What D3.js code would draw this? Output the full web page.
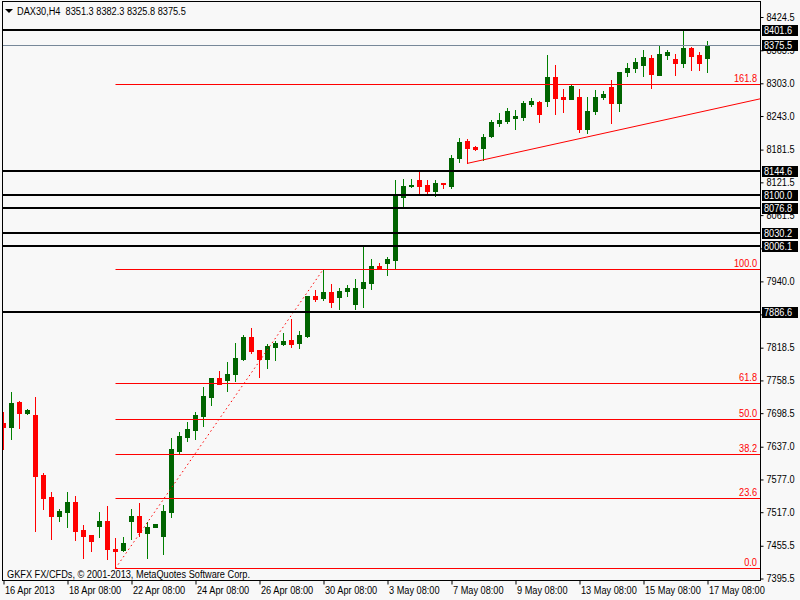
<!DOCTYPE html>
<html><head><meta charset="utf-8">
<script src="https://cdn.jsdelivr.net/npm/d3@7"></script>
<style>
html,body{margin:0;padding:0;background:#f8f8f8;}
svg{display:block;font-family:"Liberation Sans",Arial,sans-serif;font-size:10px;}
</style></head>
<body>
<svg id="c" width="800" height="600"></svg>
<script>
// ---- DATA ----
const symbolTitle = "DAX30,H4  8351.3 8382.3 8325.8 8375.5";
const watermark = "GKFX FX/CFDs, \u00A9 2001-2013, MetaQuotes Software Corp.";
const open = [
7682.8,7675.5,7721.3,7700.1,7696.9,7587.0,7547.2,7512.4,7519.7,7537.5,
7486.2,7477.0,7494.1,7502.7,7450.8,7449.6,7503.3,7511.9,7480.2,7491.2,
7475.8,7519.7,7631.5,7657.2,7669.5,7695.7,7730.5,7765.3,7761.1,7772.1,
7799.0,7839.3,7816.1,7799.6,7822.1,7827.0,7834.4,7828.3,7841.7,7915.6,
7911.3,7921.8,7913.7,7924.7,7900.4,7929.1,7939.4,7970.5,7974.9,7981.0,
8097.0,8117.1,8127.6,8118.4,8108.0,8121.5,8117.1,8168.5,8199.6,8188.6,
8186.8,8208.2,8232.6,8236.3,8241.7,8243.6,8267.4,8271.1,8272.4,8316.9,
8280.2,8276.0,8280.2,8221.0,8254.6,8279.1,8298.6,8268.1,8326.0,8332.3,
8338.3,8350.6,8320.5,8356.6,8348.8,8342.5,8370.0,8356.6,8351.3];
const high = [
7701.9,7739.6,7723.1,7707.9,7730.5,7591.2,7555.8,7525.2,7555.8,7548.5,
7495.4,7477.0,7519.2,7530.2,7471.0,7472.8,7525.2,7535.1,7501.4,7497.2,
7532.0,7655.4,7666.3,7683.6,7701.9,7748.8,7765.3,7777.6,7794.1,7829.4,
7843.5,7856.9,7816.1,7826.5,7832.6,7847.8,7873.4,7850.9,7915.0,7926.0,
7964.5,7937.0,7930.6,7935.2,7946.2,8006.6,7982.8,7974.9,7985.9,8127.6,
8129.4,8129.4,8145.9,8127.6,8127.6,8121.5,8173.4,8204.0,8202.7,8189.9,
8211.3,8237.5,8249.8,8259.0,8255.9,8272.9,8278.4,8272.4,8356.6,8338.3,
8294.3,8301.7,8294.3,8280.2,8292.5,8290.7,8310.8,8324.9,8341.4,8350.6,
8365.8,8356.6,8373.7,8366.7,8358.5,8401.6,8371.9,8362.1,8382.3];
const low = [
7634.6,7653.0,7673.7,7698.2,7484.9,7524.7,7470.3,7503.3,7491.7,7467.3,
7435.4,7448.3,7472.8,7433.1,7416.0,7448.3,7469.7,7475.8,7434.3,7491.2,
7441.7,7510.6,7625.5,7649.9,7652.4,7677.3,7715.3,7753.8,7741.5,7759.8,
7797.7,7810.0,7767.1,7783.6,7797.7,7825.2,7822.1,7820.3,7839.3,7905.9,
7907.7,7895.4,7891.2,7915.6,7891.2,7895.4,7928.4,7964.5,7953.5,7963.9,
8077.6,8115.3,8104.3,8101.9,8098.8,8112.4,8113.5,8160.0,8158.2,8182.6,
8164.2,8205.8,8226.5,8231.5,8221.0,8237.5,8263.7,8234.4,8263.7,8248.5,
8252.7,8276.0,8215.0,8214.3,8248.5,8276.0,8232.6,8254.0,8318.7,8324.9,
8318.2,8296.7,8320.0,8350.2,8320.5,8335.2,8329.7,8329.7,8325.8];
const close = [
7675.5,7719.5,7701.2,7706.1,7585.7,7545.4,7512.4,7521.0,7537.5,7484.9,
7475.8,7466.6,7502.7,7451.4,7447.7,7461.8,7511.9,7483.1,7491.2,7497.2,
7521.0,7634.6,7658.5,7670.7,7696.9,7731.8,7765.3,7753.8,7772.1,7801.9,
7839.3,7814.8,7799.6,7823.4,7829.4,7832.6,7827.0,7843.5,7915.0,7909.5,
7921.8,7904.6,7925.1,7930.2,7930.2,7940.1,7970.0,7966.9,7982.8,8098.8,
8116.6,8118.4,8117.1,8108.0,8122.6,8120.2,8167.3,8197.8,8186.8,8184.4,
8205.8,8233.3,8237.5,8254.0,8244.9,8269.2,8272.4,8248.5,8316.9,8278.4,
8276.0,8300.4,8221.0,8254.6,8280.2,8284.6,8268.1,8324.9,8332.3,8343.3,
8352.4,8321.3,8358.1,8362.7,8342.5,8369.5,8355.4,8342.5,8375.5];
const timeLabels = ["16 Apr 2013","18 Apr 08:00","22 Apr 08:00","24 Apr 08:00","26 Apr 08:00","30 Apr 08:00","3 May 08:00","7 May 08:00","9 May 08:00","13 May 08:00","15 May 08:00","17 May 08:00"];
const timeLabelBars = [0,8,16,24,32,40,48,56,64,72,80,88];
const priceTicks = [8424.5,8363.5,8303.0,8243.0,8181.5,8121.5,8061.5,8000.5,7940.0,7879.5,7818.5,7758.5,7698.5,7637.0,7577.0,7517.0,7455.5,7395.5];
const levelLines = [8401.6,8144.6,8100.0,8076.8,8030.2,8006.1,7886.6];
const bidLine = 8375.5;
const fibStartBar = 14, fibStartPrice = 7416.0;
const fibEndBar = 40, fibEndPrice = 7964.5;
const fibLevels = [0,23.6,38.2,50.0,61.8,100.0,161.8];
const trendBars = [58,88];
const trendPrices = [8158.2,8255.1];

// ---- LAYOUT ----
const svg = d3.select("#c");
const L = 2.5, R = 760.5, T = 1.5, B = 580.5;
const x = d3.scaleLinear().domain([0,88]).range([3.5,707.5]);
const y = d3.scaleLinear().domain([7395.5,8424.5]).range([579.5,18]);
const bull = "#006400", bullLine = "#008000", bear = "#ff0000";

svg.append("rect").attr("width",800).attr("height",600).attr("fill","#f8f8f8");
svg.append("defs").append("clipPath").attr("id","plot")
  .append("rect").attr("x",3).attr("y",2).attr("width",R-3.5).attr("height",B-2.5);
const plot = svg.append("g").attr("clip-path","url(#plot)");

// candles
const idx = d3.range(open.length);
const cg = plot.append("g");
cg.selectAll("line.w").data(idx).join("line")
  .attr("x1",i=>x(i)).attr("x2",i=>x(i))
  .attr("y1",i=>Math.round(y(high[i]))).attr("y2",i=>Math.round(y(low[i]))+1)
  .attr("stroke",i=>close[i]>=open[i]?bullLine:bear).attr("stroke-width",1);
cg.selectAll("rect.b").data(idx).join("rect")
  .attr("x",i=>x(i)-2.5).attr("width",5)
  .attr("y",i=>Math.round(y(Math.max(open[i],close[i]))))
  .attr("height",i=>Math.max(1,Math.round(y(Math.min(open[i],close[i])))-Math.round(y(Math.max(open[i],close[i])))+1))
  .attr("fill",i=>close[i]>=open[i]?bull:bear);

// fib levels
const fibPrice = l => fibStartPrice + (fibEndPrice-fibStartPrice)*l/100;
const fg = plot.append("g");
fibLevels.forEach(l=>{
  const yy = Math.round(y(fibPrice(l)))+0.5;
  fg.append("line").attr("x1",x(fibStartBar)).attr("x2",R).attr("y1",yy).attr("y2",yy)
    .attr("stroke","#ff0000").attr("stroke-width",1);
  fg.append("text").attr("x",757).attr("y",yy-3).attr("text-anchor","end")
    .attr("fill","#ff0000").text(l.toFixed(1));
});
fg.append("line").attr("x1",x(fibStartBar)).attr("y1",y(fibStartPrice))
  .attr("x2",x(fibEndBar)).attr("y2",y(fibEndPrice))
  .attr("stroke","#ff0000").attr("stroke-width",1).attr("stroke-dasharray","1.5,3");

// trend line (ray)
const slope = (y(trendPrices[1])-y(trendPrices[0]))/(x(trendBars[1])-x(trendBars[0]));
plot.append("line").attr("x1",x(trendBars[0])).attr("y1",y(trendPrices[0]))
  .attr("x2",R).attr("y2",y(trendPrices[0])+slope*(R-x(trendBars[0])))
  .attr("stroke","#ff0000").attr("stroke-width",1);

// horizontal levels
plot.selectAll("line.lv").data(levelLines).join("line")
  .attr("x1",3).attr("x2",R).attr("y1",d=>Math.round(y(d))).attr("y2",d=>Math.round(y(d)))
  .attr("stroke","#000").attr("stroke-width",2);
plot.append("line").attr("x1",3).attr("x2",R)
  .attr("y1",Math.round(y(bidLine))+0.5).attr("y2",Math.round(y(bidLine))+0.5)
  .attr("stroke","#778899").attr("stroke-width",1);

// watermark
svg.append("text").attr("x",7).attr("y",578).attr("fill","#000").text(watermark);

// title
svg.append("path").attr("d","M5,9 L13,9 L9,13 Z").attr("fill","#000");
svg.append("text").attr("x",17).attr("y",15).attr("fill","#000")
  .style("white-space","pre").text(symbolTitle);

// right axis
const ya = svg.append("g").attr("transform",`translate(${R},-1)`)
  .call(d3.axisRight(y).tickValues(priceTicks).tickFormat(d=>d.toFixed(1)).tickSize(3).tickPadding(3));
ya.select(".domain").remove();
ya.selectAll("text").attr("font-family","Liberation Sans, Arial, sans-serif").attr("font-size",10).attr("fill","#000");
ya.selectAll("line").attr("stroke","#000");

// bottom axis
const xa = svg.append("g").attr("transform",`translate(0,${B})`)
  .call(d3.axisBottom(x).tickValues(timeLabelBars).tickFormat((d,i)=>timeLabels[i]).tickSize(4).tickPadding(3));
xa.select(".domain").remove();
xa.selectAll("text").attr("text-anchor","start").attr("dx",1).attr("dy","0.6em")
  .attr("font-family","Liberation Sans, Arial, sans-serif").attr("font-size",10).attr("fill","#000");
xa.selectAll("line").attr("stroke","#000");

// frame
svg.append("rect").attr("x",L).attr("y",T).attr("width",R-L).attr("height",B-T)
  .attr("fill","none").attr("stroke","#000").attr("stroke-width",1);

// price labels on axis
const tags = levelLines.concat([bidLine]);
const tg = svg.append("g");
tags.forEach(p=>{
  const yy = Math.round(y(p));
  tg.append("rect").attr("x",762).attr("y",yy-5).attr("width",36).attr("height",11).attr("fill","#000");
  tg.append("text").attr("x",764).attr("y",yy+4).attr("fill","#fff").text(p.toFixed(1));
});

// narrow the glyphs slightly to match the reference's Tahoma-like metrics
svg.selectAll("text").each(function(){
  const len = this.getComputedTextLength();
  if (len > 0) d3.select(this).attr("textLength", (len*0.92).toFixed(1)).attr("lengthAdjust","spacingAndGlyphs");
});
</script>
</body></html>
